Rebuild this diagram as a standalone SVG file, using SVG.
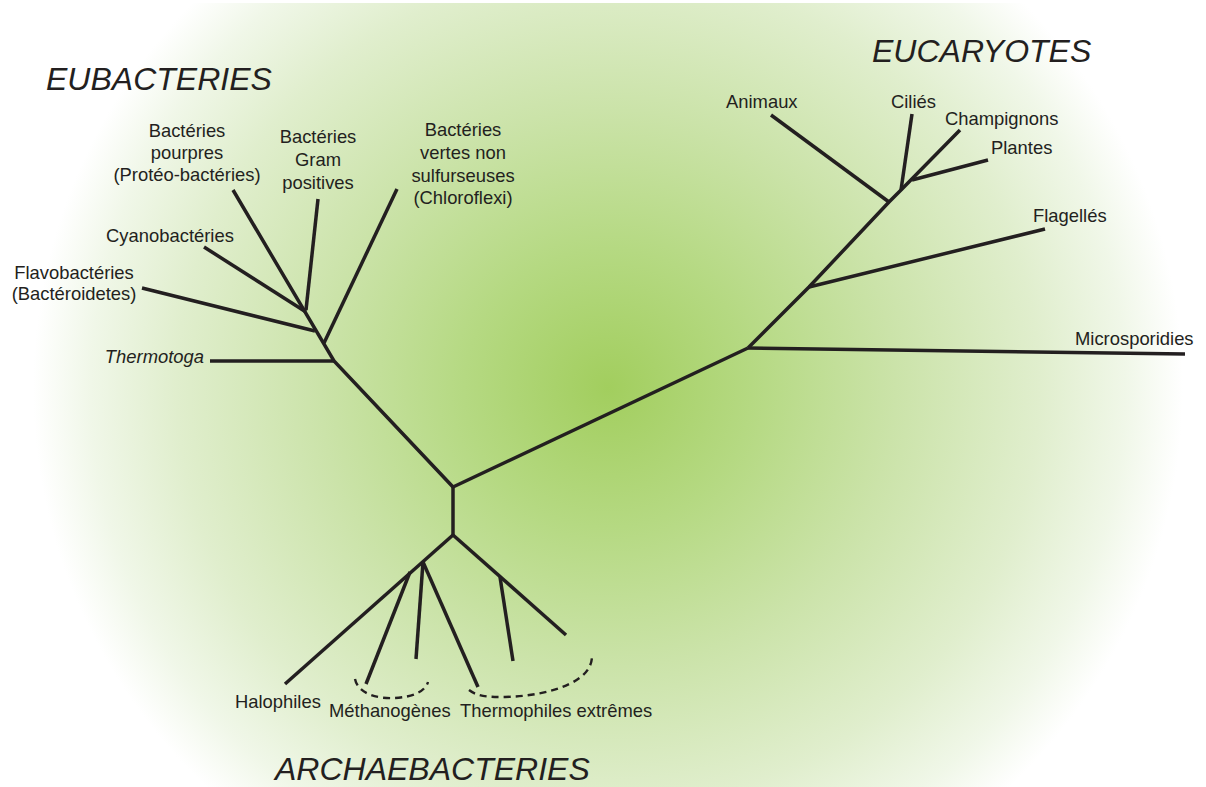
<svg xmlns="http://www.w3.org/2000/svg" width="1206" height="787" viewBox="0 0 1206 787">
  <defs>
    <radialGradient id="bg" gradientUnits="userSpaceOnUse" cx="608" cy="388" r="575" gradientTransform="translate(608 388) scale(1 0.97) translate(-608 -388)">
      <stop offset="0" stop-color="#a2ce5e"/>
      <stop offset="0.25" stop-color="#b5d982"/>
      <stop offset="0.5" stop-color="#cbe3a9"/>
      <stop offset="0.75" stop-color="#e0eecd"/>
      <stop offset="0.9" stop-color="#f0f7e8"/>
      <stop offset="1" stop-color="#ffffff"/>
    </radialGradient>
    <style>
      .br { fill: none; stroke: #231f20; stroke-width: 3.5; stroke-linecap: butt; stroke-linejoin: miter; }
      .dash { fill: none; stroke: #231f20; stroke-width: 2.4; stroke-dasharray: 7 5; }
      .lbl { font-family: "Liberation Sans", Arial, sans-serif; font-size: 18.4px; fill: #231f20; }
      .mid { text-anchor: middle; }
      .it { font-style: italic; }
      .title { font-family: "Liberation Sans", Arial, sans-serif; font-size: 32px; font-style: italic; fill: #231f20; }
    </style>
  </defs>
  <rect x="0" y="0" width="1206" height="787" fill="#ffffff"/>
  <rect x="0" y="3" width="1206" height="784" fill="url(#bg)"/>

  <g id="connectors">
    <!-- Eubacteries -->
    <path class="br" d="M453,487 L334,361 L233,190"/>
    <path class="br" d="M306,310 L318,199"/>
    <path class="br" d="M306,312 L204,247"/>
    <path class="br" d="M315,331 L142,288"/>
    <path class="br" d="M324,343 L397,189"/>
    <path class="br" d="M210,361 L334,361"/>
    <!-- root -->
    <path class="br" d="M453,487 L453,535"/>
    <path class="br" d="M453,487 L748,348"/>
    <!-- Eucaryotes -->
    <path class="br" d="M748,348 L1185,354"/>
    <path class="br" d="M748,348 L809,287 L889,202 L902,189 L960,130"/>
    <path class="br" d="M809,287 L1045,229"/>
    <path class="br" d="M889,202 L771,115"/>
    <path class="br" d="M901,190 L912,114"/>
    <path class="br" d="M912,180 L988,160"/>
    <!-- Archaebacteries -->
    <path class="br" d="M453,535 L285,684"/>
    <path class="br" d="M423,562 L416,659"/>
    <path class="br" d="M423,562 L478,687"/>
    <path class="br" d="M410,572 L366,684"/>
    <path class="br" d="M453,535 L566,635"/>
    <path class="br" d="M500,577 L513,661"/>
    <path class="dash" d="M355,679 C358,694 378,699 395,698 C412,697 425,692 428,682"/>
    <path class="dash" d="M469,690 C478,697 490,697 505,697 C540,696 568,688 582,676 C590,669 592,662 592,656"/>
  </g>

  <g id="title-eubacteries"><text class="title" x="46" y="90">EUBACTERIES</text></g>
  <g id="title-eucaryotes"><text class="title" x="872" y="62">EUCARYOTES</text></g>
  <g id="title-archaebacteries"><text class="title" x="275" y="780">ARCHAEBACTERIES</text></g>

  <g id="node-proteobacteries">
    <text class="lbl mid" x="187" y="137">Bactéries</text>
    <text class="lbl mid" x="187" y="159">pourpres</text>
    <text class="lbl mid" x="187" y="181">(Protéo-bactéries)</text>
  </g>
  <g id="node-gram-positives">
    <text class="lbl mid" x="318" y="143">Bactéries</text>
    <text class="lbl mid" x="318" y="166">Gram</text>
    <text class="lbl mid" x="318" y="189">positives</text>
  </g>
  <g id="node-chloroflexi">
    <text class="lbl mid" x="463" y="136">Bactéries</text>
    <text class="lbl mid" x="463" y="159">vertes non</text>
    <text class="lbl mid" x="463" y="182">sulfurseuses</text>
    <text class="lbl mid" x="463" y="204">(Chloroflexi)</text>
  </g>
  <g id="node-cyanobacteries"><text class="lbl mid" x="170" y="242">Cyanobactéries</text></g>
  <g id="node-flavobacteries">
    <text class="lbl mid" x="74" y="279">Flavobactéries</text>
    <text class="lbl mid" x="74" y="300">(Bactéroidetes)</text>
  </g>
  <g id="node-thermotoga"><text class="lbl it" x="204" y="363" text-anchor="end">Thermotoga</text></g>

  <g id="node-animaux"><text class="lbl" x="726" y="108">Animaux</text></g>
  <g id="node-cilies"><text class="lbl" x="891" y="108">Ciliés</text></g>
  <g id="node-champignons"><text class="lbl" x="945" y="125">Champignons</text></g>
  <g id="node-plantes"><text class="lbl" x="991" y="154">Plantes</text></g>
  <g id="node-flagelles"><text class="lbl" x="1033" y="222">Flagellés</text></g>
  <g id="node-microsporidies"><text class="lbl" x="1075" y="345">Microsporidies</text></g>

  <g id="node-halophiles"><text class="lbl" x="235" y="708">Halophiles</text></g>
  <g id="node-methanogenes"><text class="lbl" x="329" y="717">Méthanogènes</text></g>
  <g id="node-thermophiles"><text class="lbl" x="460" y="717">Thermophiles extrêmes</text></g>
</svg>
